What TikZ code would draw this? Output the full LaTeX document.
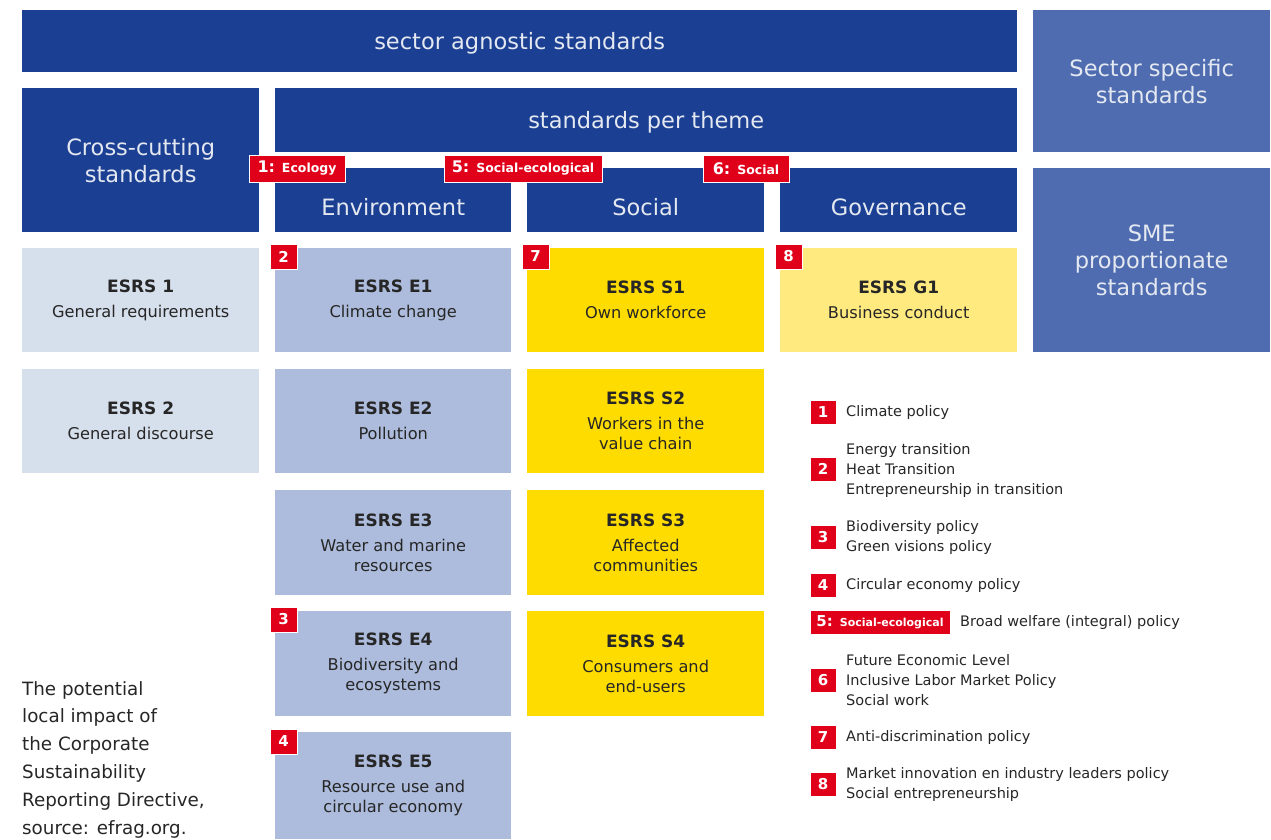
\documentclass[tikz,border=0pt]{standalone}
\usepackage{fontspec}
\setmainfont{DejaVu Sans}
\usepackage{tikz}
\usetikzlibrary{positioning}
\definecolor{esrsblue}{HTML}{1B3F92}
\definecolor{sectorblue}{HTML}{4E6CAF}
\definecolor{bartext}{HTML}{E4E8F1}
\definecolor{crossgrey}{HTML}{D6DFEC}
\definecolor{envblue}{HTML}{ADBCDC}
\definecolor{socyellow}{HTML}{FEDC00}
\definecolor{govyellow}{HTML}{FFEA80}
\definecolor{esrsred}{HTML}{E1001A}
\definecolor{darktext}{HTML}{262626}
\tikzstyle{bar} = [rectangle, fill=esrsblue, text=bartext, anchor=north west, inner sep=0pt, align=center, text depth=0pt, font=\fontsize{22.5}{27}\selectfont]
\tikzstyle{topic} = [rectangle, anchor=north west, inner sep=0pt, align=center, text=darktext, minimum width=237pt, font=\fontsize{16.2}{20}\selectfont]
\tikzstyle{badge} = [rectangle, fill=esrsred, draw=white, line width=0.8pt, text=white, inner sep=0pt, font=\bfseries\fontsize{15}{15}\selectfont]
\tikzstyle{legend} = [anchor=west, align=left, text=darktext, inner sep=0pt, font=\fontsize{14.5}{20}\selectfont]
\newcommand{\esrs}[2]{\textbf{\fontsize{17}{20}\selectfont #1}\\[5pt]#2}
\newcommand{\badgetag}[2]{{\fontsize{16}{16}\selectfont #1:} {\fontsize{12.5}{12.5}\selectfont #2}}
\newcommand{\keytag}[2]{#1: {\fontsize{11}{11}\selectfont #2}}

\begin{document}
\begin{tikzpicture}[x=1pt,y=-1pt]
\useasboundingbox (0,0) rectangle (1271,839);
% header bars
\node (agnostic) [bar, minimum width=995pt, minimum height=62pt] at (22,10) {sector agnostic standards};
\node (specific) [bar, fill=sectorblue, minimum width=237pt, minimum height=142pt] at (1033,10) {Sector specific\\standards};
\node (cross) [bar, minimum width=237pt, minimum height=144pt] at (22,88) {Cross-cutting\\standards};
\node (theme) [bar, minimum width=742pt, minimum height=64pt] at (275,88) {standards per theme};
\node (env) [bar, text height=31pt, minimum width=236pt, minimum height=64pt] at (275,168) {Environment};
\node (soc) [bar, text height=31pt, minimum width=237pt, minimum height=64pt] at (527,168) {Social};
\node (gov) [bar, text height=31pt, minimum width=237pt, minimum height=64pt] at (780,168) {Governance};
\node (sme) [bar, fill=sectorblue, minimum width=237pt, minimum height=184pt] at (1033,168) {SME\\proportionate\\standards};

% standards
\node (esrs1) [topic, fill=crossgrey, minimum height=104pt] at (22,248) {\esrs{ESRS 1}{General requirements}};
\node (esrs2) [topic, fill=crossgrey, minimum height=104pt] at (22,369) {\esrs{ESRS 2}{General discourse}};
\node (e1) [topic, fill=envblue, minimum width=236pt, minimum height=104pt] at (275,248) {\esrs{ESRS E1}{Climate change}};
\node (e2) [topic, fill=envblue, minimum width=236pt, minimum height=104pt] at (275,369) {\esrs{ESRS E2}{Pollution}};
\node (e3) [topic, fill=envblue, minimum width=236pt, minimum height=105pt] at (275,490) {\esrs{ESRS E3}{Water and marine\\resources}};
\node (e4) [topic, fill=envblue, minimum width=236pt, minimum height=105pt] at (275,611) {\esrs{ESRS E4}{Biodiversity and\\ecosystems}};
\node (e5) [topic, fill=envblue, minimum width=236pt, minimum height=107pt] at (275,732) {\esrs{ESRS E5}{Resource use and\\circular economy}};
\node (s1) [topic, fill=socyellow, minimum height=104pt] at (527,248) {\esrs{ESRS S1}{Own workforce}};
\node (s2) [topic, fill=socyellow, minimum height=104pt] at (527,369) {\esrs{ESRS S2}{Workers in the\\value chain}};
\node (s3) [topic, fill=socyellow, minimum height=105pt] at (527,490) {\esrs{ESRS S3}{Affected\\communities}};
\node (s4) [topic, fill=socyellow, minimum height=105pt] at (527,611) {\esrs{ESRS S4}{Consumers and\\end-users}};
\node (g1) [topic, fill=govyellow, minimum height=104pt] at (780,248) {\esrs{ESRS G1}{Business conduct}};

% theme tags
\node (tag1) [badge, minimum width=96pt, minimum height=27pt] at (297,168.5) {\badgetag{1}{Ecology}};
\node (tag5) [badge, minimum width=158pt, minimum height=27pt] at (523,168.5) {\badgetag{5}{Social-ecological}};
\node (tag6) [badge, minimum width=86pt, minimum height=27pt] at (746,168.5) {\badgetag{6}{Social}};
\node (num2) [badge, minimum width=27pt, minimum height=25pt] at (283.5,256.5) {2};
\node (num7) [badge, minimum width=27pt, minimum height=25pt] at (535.5,256.5) {7};
\node (num8) [badge, minimum width=27pt, minimum height=25pt] at (788.5,256.5) {8};
\node (num3) [badge, minimum width=27pt, minimum height=25pt] at (283.5,619.5) {3};
\node (num4) [badge, minimum width=27pt, minimum height=25pt] at (283.5,741.5) {4};

% legend
\node (key1) [badge, minimum width=26pt, minimum height=24pt] at (823,412) {1};
\node (txt1) [legend] at (846,412) {Climate policy};
\node (key2) [badge, minimum width=26pt, minimum height=24pt] at (823,469) {2};
\node (txt2) [legend] at (846,470) {Energy transition\\Heat Transition\\Entrepreneurship in transition};
\node (key3) [badge, minimum width=26pt, minimum height=24pt] at (823,537) {3};
\node (txt3) [legend] at (846,537) {Biodiversity policy\\Green visions policy};
\node (key4) [badge, minimum width=26pt, minimum height=24pt] at (823,585) {4};
\node (txt4) [legend] at (846,585) {Circular economy policy};
\node (key5) [badge, minimum width=140pt, minimum height=24pt] at (880,622) {\keytag{5}{Social-ecological}};
\node (txt5) [legend] at (960,622) {Broad welfare (integral) policy};
\node (key6) [badge, minimum width=26pt, minimum height=24pt] at (823,680) {6};
\node (txt6) [legend] at (846,680) {Future Economic Level\\Inclusive Labor Market Policy\\Social work};
\node (key7) [badge, minimum width=26pt, minimum height=24pt] at (823,737) {7};
\node (txt7) [legend] at (846,737) {Anti-discrimination policy};
\node (key8) [badge, minimum width=26pt, minimum height=24pt] at (823,784) {8};
\node (txt8) [legend] at (846,784) {Market innovation en industry leaders policy\\Social entrepreneurship};

% caption
\node (caption) [anchor=north west, align=left, inner sep=0pt, text=darktext, font=\fontsize{18.3}{27.8}\selectfont] at (22,681) {The potential\\local impact of\\the Corporate\\Sustainability\\Reporting Directive,\\source: efrag.org.};
\end{tikzpicture}
\end{document}
